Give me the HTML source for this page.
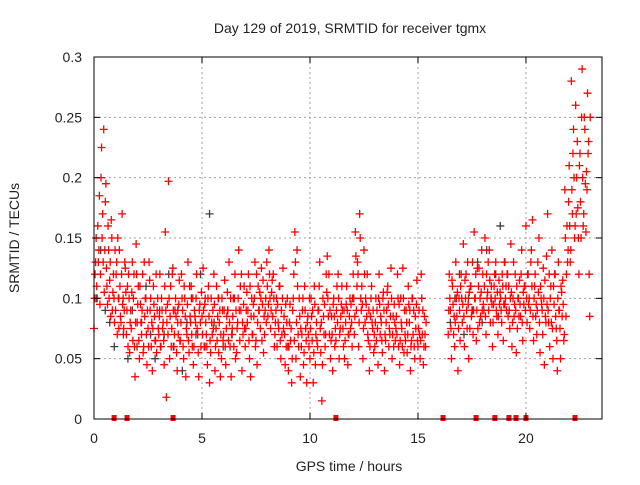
<!DOCTYPE html>
<html><head><meta charset="utf-8"><style>
body{margin:0;background:#fff}
svg text{font-family:"Liberation Sans",sans-serif;font-size:14px;fill:#222}
</style></head><body>
<svg id="chart" width="640" height="480" viewBox="0 0 640 480" xmlns="http://www.w3.org/2000/svg">
<rect width="640" height="480" fill="#fff"/>
<text x="350" y="33" text-anchor="middle">Day 129 of 2019, SRMTID for receiver tgmx</text>
<text transform="translate(19,238) rotate(-90)" text-anchor="middle">SRMTID / TECUs</text>
<text x="349" y="471" text-anchor="middle">GPS time / hours</text>
<g id="grid"></g><g id="gray"></g><g id="red"></g><g id="axes"></g>
</svg>
<script>
const xTicks=[0,5,10,15,20];
const yTicks=[0,0.05,0.1,0.15,0.2,0.25,0.3];
const yTickLabels=["0","0.05","0.1","0.15","0.2","0.25","0.3"];
const segStarts=[0,16.4];
const redSeg1=[.075,.12,.15,.10,.13,.185,.12,.225,.17,.24,.14,.195,.11,.16,.10,.13,.165,.09,.12,.08,
.09,.13,.15,.075,.11,.08,.17,.10,.09,.125,.07,.11,.12,.055,.09,.105,.065,.12,.035,.145,
.08,.11,.05,.095,.07,.12,.06,.085,.10,.045,.075,.13,.09,.06,.04,.11,.085,.065,.055,.10,
.07,.12,.06,.09,.08,.045,.155,.018,.095,.197,.05,.11,.075,.125,.06,.09,.085,.04,.07,.115,
.065,.12,.09,.05,.10,.035,.07,.13,.055,.085,.11,.06,.045,.09,.08,.12,.07,.035,.095,.06,
.085,.125,.06,.10,.07,.045,.11,.03,.055,.08,.09,.12,.04,.075,.065,.10,.08,.035,.05,.09,
.07,.115,.045,.085,.09,.13,.06,.035,.075,.10,.10,.05,.055,.08,.14,.065,.09,.04,.07,.11,
.06,.09,.08,.12,.05,.035,.10,.07,.085,.13,.065,.045,.11,.09,.075,.125,.095,.055,.07,.10,
.13,.085,.14,.10,.09,.115,.12,.06,.08,.10,.095,.075,.11,.05,.07,.125,.085,.045,.06,.10,
.04,.08,.065,.03,.09,.12,.155,.05,.14,.07,.10,.035,.06,.09,.045,.11,.075,.03,.085,.06,
.05,.10,.065,.03,.11,.045,.08,.06,.09,.13,.055,.015,.10,.07,.06,.12,.135,.085,.07,.05,
.085,.04,.10,.06,.065,.11,.12,.05,.075,.095,.09,.06,.05,.08,.11,.045,.07,.10,.095,.06,
.12,.07,.155,.09,.13,.06,.17,.10,.11,.05,.14,.08,.095,.12,.065,.04,.085,.11,.075,.055,
.06,.10,.09,.045,.12,.07,.08,.055,.105,.04,.065,.09,.11,.06,.07,.125,.05,.085,.095,.065,
.085,.12,.06,.045,.10,.075,.125,.055,.07,.09,.055,.11,.08,.04,.065,.10,.09,.05,.075,.115,
.06,.09,.05,.12,.07,.045,.085,.06];
const redSeg1b=[.10,.13,.11,.16,.14,.095,.20,.15,.13,.105,.18,.125,.095,.14,.115,.085,.15,.105,.10,.14,
.12,.07,.10,.14,.085,.12,.095,.075,.13,.105,.09,.06,.10,.08,.075,.13,.10,.06,.08,.12,
.095,.065,.11,.08,.09,.055,.13,.10,.07,.09,.06,.115,.10,.08,.075,.095,.065,.12,.09,.075,
.085,.06,.10,.075,.065,.11,.09,.08,.07,.10,.085,.06,.12,.09,.07,.10,.055,.08,.095,.065,
.08,.10,.06,.11,.085,.075,.095,.065,.11,.08,.07,.10,.06,.085,.10,.075,.055,.09,.08,.105,
.07,.09,.095,.08,.06,.10,.085,.065,.10,.07,.075,.095,.06,.11,.085,.055,.09,.07,.10,.065,
.09,.06,.075,.105,.065,.08,.10,.07,.085,.06,.12,.09,.075,.10,.09,.11,.12,.08,.095,.075,
.075,.105,.09,.065,.11,.085,.07,.095,.10,.06,.12,.08,.09,.105,.10,.065,.115,.085,.09,.08,
.11,.095,.12,.075,.105,.085,.10,.07,.09,.06,.08,.11,.065,.09,.10,.075,.07,.095,.08,.06,
.06,.095,.075,.05,.10,.065,.13,.08,.11,.06,.085,.075,.07,.10,.055,.09,.065,.08,.07,.10,
.075,.085,.09,.055,.095,.07,.065,.09,.11,.075,.08,.045,.085,.095,.07,.105,.10,.12,.09,.065,
.07,.095,.085,.075,.09,.08,.10,.07,.085,.11,.075,.09,.065,.095,.09,.07,.085,.075,.08,.10,
.10,.085,.135,.11,.12,.08,.15,.09,.095,.075,.12,.10,.085,.07,.09,.06,.10,.08,.09,.07,
.08,.065,.075,.10,.095,.085,.065,.10,.09,.07,.08,.105,.095,.075,.085,.10,.07,.06,.08,.075,
.07,.10,.095,.065,.08,.06,.10,.09,.065,.08,.07,.095,.09,.06,.10,.07,.06,.085,.095,.065,
.075,.07,.065,.10,.09,.06,.07,.08];
const redSeg2=[.07,.12,.09,.05,.11,.07,.06,.13,.085,.04,.10,.065,
.12,.08,.145,.06,.10,.09,.13,.05,.075,.11,.09,.07,.155,.10,.065,.125,.11,.08,.085,.14,
.12,.09,.15,.07,.10,.13,.14,.08,.11,.06,.095,.12,.13,.085,.07,.115,.105,.09,.12,.065,
.13,.10,.09,.12,.11,.075,.145,.06,.10,.085,.12,.055,.075,.10,.115,.085,.14,.065,.095,.11,
.16,.08,.12,.10,.09,.14,.165,.065,.11,.085,.07,.13,.15,.055,.10,.09,.125,.045,.085,.135,
.17,.08,.06,.11,.14,.05,.095,.12,.075,.04,.13,.09,.05,.105,.115,.065,.19,.085,.16,.14,
.21,.13,.28,.17,.24,.15,.26,.20,.175,.12,.22,.15,.29,.16,.25,.195,.205,.27,.23,.085];
const redSeg2b=[.09,.10,.075,.115,.095,.085,.08,.10,.105,.075,.09,.11,
.10,.095,.085,.115,.12,.075,.095,.105,.11,.085,.13,.09,.10,.12,.09,.075,.125,.10,.105,.09,
.095,.11,.085,.12,.105,.09,.115,.10,.095,.08,.11,.10,.09,.105,.085,.095,.10,.08,.11,.095,
.095,.11,.12,.085,.09,.10,.105,.08,.13,.095,.09,.11,.10,.085,.095,.12,.08,.105,.11,.09,
.10,.12,.095,.075,.13,.11,.085,.10,.12,.095,.09,.105,.08,.11,.095,.07,.10,.115,.08,.095,
.09,.12,.10,.08,.075,.11,.12,.085,.065,.10,.09,.075,.11,.085,.095,.07,.15,.12,.13,.18,
.16,.14,.19,.22,.20,.16,.17,.23,.15,.21,.18,.25,.20,.17,.24,.155,.19,.22,.12,.25];
const graySeg1=[.10,.14,.09,.08,.06,.10,.07,.05,.09,.06,.08,.11,.07,.05,.09,.07,.12,.06,.09,.04,.08,.10,.07,.12,.06,.17,.08,.10,.06,.09,.07];
const graySeg2=[.08,.10,.12,.07,.10,.09,.13,.08,.14,.10,.12,.16,.13];
const zeroMarks=[0.93,1.53,3.66,11.2,16.16,17.69,18.56,19.21,19.54,20.0,22.27];

const L=94,R=602,T=57,B=419,XMAX=23.52,YMAX=0.3;
const sx=h=>L+h/XMAX*(R-L);
const sy=v=>B-v/YMAX*(B-T);
const NS="http://www.w3.org/2000/svg";
function mk(tag,attrs,parent){const e=document.createElementNS(NS,tag);for(const k in attrs)e.setAttribute(k,attrs[k]);parent.appendChild(e);return e;}
const grid=document.getElementById('grid'),axes=document.getElementById('axes');
xTicks.forEach((t,i)=>{const x=sx(t);
 if(t>0){const g=mk('line',{x1:x,x2:x,y1:T,y2:B,stroke:'#a0a0a0','stroke-dasharray':'2,3'},grid);
 
 }
 mk('line',{x1:x,x2:x,y1:B,y2:B-6,stroke:'#000'},axes);
 mk('line',{x1:x,x2:x,y1:T,y2:T+6,stroke:'#000'},axes);
 const tx=mk('text',{x:x,y:B+24,'text-anchor':'middle'},axes);tx.textContent=t;
 
 
});
yTicks.forEach((t,i)=>{const y=sy(t);
 if(t>0&&t<YMAX){const g=mk('line',{x1:L,x2:R,y1:y,y2:y,stroke:'#a0a0a0','stroke-dasharray':'2,3'},grid);
 
 }
 mk('line',{x1:L,x2:L+6,y1:y,y2:y,stroke:'#000'},axes);
 mk('line',{x1:R,x2:R-6,y1:y,y2:y,stroke:'#000'},axes);
 const tx=mk('text',{x:L-12,y:y+5,'text-anchor':'end'},axes);tx.textContent=yTickLabels[i];
 
 
});
const frame=mk('rect',{x:L,y:T,width:R-L,height:B-T,fill:'none',stroke:'#000'},axes);


function plus(h,v,col,g){const x=sx(h),y=sy(v);
 const p=mk('path',{d:`M${x-4} ${y}h8M${x} ${y-4}v8`,stroke:col,'stroke-width':1.3,fill:'none'},g);
 
 }
const red=document.getElementById('red'),gray=document.getElementById('gray');
[[graySeg1,segStarts[0]],[graySeg2,segStarts[1]]].forEach(([arr,s])=>arr.forEach((v,i)=>plus(s+i*0.21+0.1,v,'#404040',gray)));
[[redSeg1,segStarts[0],0],[redSeg2,segStarts[1],0],[redSeg1b,segStarts[0],0.025],[redSeg2b,segStarts[1],0.025]].forEach(([arr,s,o])=>arr.forEach((v,i)=>plus(s+o+Math.floor(i/2)*0.1+(i%2)*0.05,v,'#ff0000',red)));
zeroMarks.forEach(h=>{const r=mk('rect',{x:sx(h)-2.5,y:B-4,width:5,height:6,fill:'#ff0000'},red);
 
 });
</script>
</body></html>
